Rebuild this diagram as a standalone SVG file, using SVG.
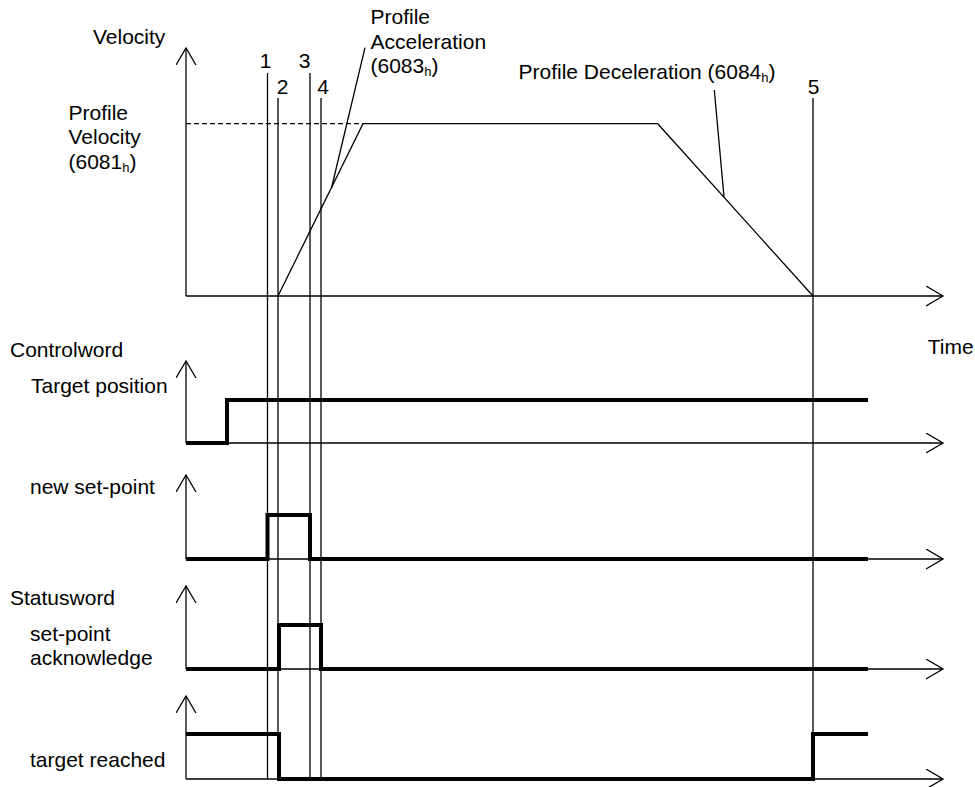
<svg xmlns="http://www.w3.org/2000/svg" width="975" height="787" viewBox="0 0 975 787">
<style>
text{font-family:"Liberation Sans",Arial,sans-serif;font-size:21px;fill:#000}
.sub{font-size:13px}
.thin{fill:none;stroke:#000;stroke-width:1.3}
.thick{fill:none;stroke:#000;stroke-width:4;stroke-linejoin:miter}
.dash{fill:none;stroke:#000;stroke-width:1.3;stroke-dasharray:5,3}
.num{text-anchor:middle}
</style>
<defs>
<marker id="ah" markerWidth="20" markerHeight="24" refX="17" refY="10" orient="auto" markerUnits="userSpaceOnUse">
<path d="M0,0 L17,10 L0,20" fill="none" stroke="#000" stroke-width="1.3"/>
</marker>
</defs>
<g id="axes">
<path class="thin" d="M186,296 V48" marker-end="url(#ah)"/>
<path class="thin" d="M186,296 H943" marker-end="url(#ah)"/>
<path class="thin" d="M186,443 V361" marker-end="url(#ah)"/>
<path class="thin" d="M186,443 H943" marker-end="url(#ah)"/>
<path class="thin" d="M186,559 V475" marker-end="url(#ah)"/>
<path class="thin" d="M186,559 H943" marker-end="url(#ah)"/>
<path class="thin" d="M186,669 V586" marker-end="url(#ah)"/>
<path class="thin" d="M186,669 H943" marker-end="url(#ah)"/>
<path class="thin" d="M186,779 V696" marker-end="url(#ah)"/>
<path class="thin" d="M186,779 H943" marker-end="url(#ah)"/>
</g>
<g id="events">
<line class="thin" x1="267.5" y1="73" x2="267.5" y2="779"/>
<line class="thin" x1="278" y1="98" x2="278" y2="779"/>
<line class="thin" x1="310" y1="73" x2="310" y2="779"/>
<line class="thin" x1="321" y1="98" x2="321" y2="779"/>
<line class="thin" x1="813" y1="98" x2="813" y2="779"/>
<text class="num" x="265.5" y="68">1</text>
<text class="num" x="282.5" y="94">2</text>
<text class="num" x="304.5" y="68">3</text>
<text class="num" x="323" y="94">4</text>
<text class="num" x="813.5" y="93.5">5</text>
</g>
<g id="velocity">
<line class="dash" x1="186" y1="123.7" x2="363" y2="123.7"/>
<path class="thin" d="M278,296 L363,123.7 H657.7 L813,296"/>
<line class="thin" x1="365" y1="47.7" x2="331.5" y2="188"/>
<line class="thin" x1="714.3" y1="90" x2="724" y2="196.8"/>
<text x="93" y="44">Velocity</text>
<text x="68.5" y="119.5">Profile</text>
<text x="68.5" y="144">Velocity</text>
<text x="68.5" y="168.5">(6081<tspan class="sub" dy="3">h</tspan><tspan dy="-3">)</tspan></text>
<text x="370.5" y="24">Profile</text>
<text x="370.5" y="48.5">Acceleration</text>
<text x="370.5" y="73">(6083<tspan class="sub" dy="3">h</tspan><tspan dy="-3">)</tspan></text>
<text x="518.5" y="78.5">Profile Deceleration (6084<tspan class="sub" dy="3">h</tspan><tspan dy="-3">)</tspan></text>
<text x="927.7" y="354">Time</text>
</g>
<g id="target-position">
<text x="10" y="357">Controlword</text>
<text x="31" y="393">Target position</text>
<path class="thick" d="M186,443 H227 V400 H868"/>
</g>
<g id="new-set-point">
<text x="30" y="493.5">new set-point</text>
<path class="thick" d="M186,559 H267.5 V515 H310 V559 H868"/>
</g>
<g id="set-point-acknowledge">
<text x="10" y="605">Statusword</text>
<text x="30" y="641">set-point</text>
<text x="30" y="664.5">acknowledge</text>
<path class="thick" d="M186,669 H279 V625 H321 V669 H868"/>
</g>
<g id="target-reached">
<text x="30" y="766.5">target reached</text>
<path class="thick" d="M186,734 H279 V779 H813 V734 H868"/>
</g>
</svg>
